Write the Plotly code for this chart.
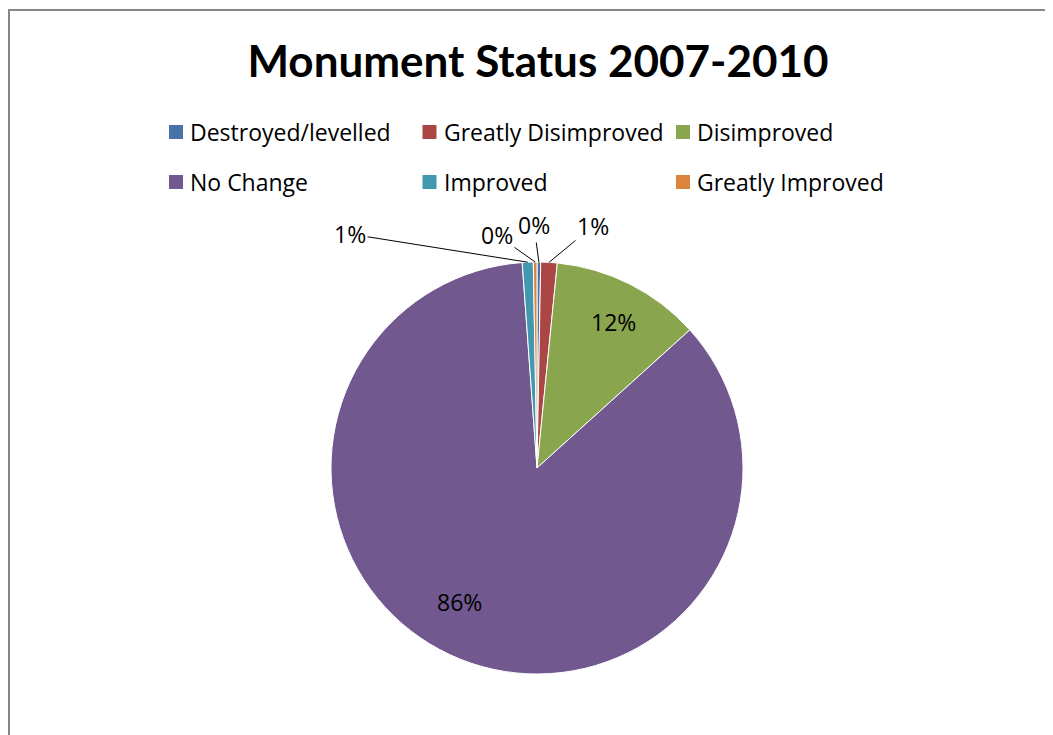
import math
import plotly.graph_objects as go

# monument condition counts, 2007-2010
status = ["Destroyed/levelled", "Greatly Disimproved", "Disimproved",
          "No Change", "Improved", "Greatly Improved"]
counts = [2, 9, 82, 598, 6, 2]
colours = ["#4573A7", "#AA4643", "#89A54E", "#71588F", "#4198AF", "#DB843D"]

# the page body has an 8px margin, so the figure is shrunk and shifted by it
OFF = 8
W, H = 1053 - OFF, 735 - OFF
FONT = "Open Sans"


def fx(x):
    return (x - OFF) / W


def fy(y):
    return 1 - (y - OFF) / H


cx, cy, r = 537, 468, 206          # pie centre / radius in page pixels

# label centres (page pixels) and whether they need a leader line
label_xy = [(534, 225), (593, 226), (613, 322), (459, 620), (350, 234), (497, 235)]
leader = [True, True, False, False, True, True]

fig = go.Figure()
fig.add_trace(go.Pie(
    labels=status,
    values=counts,
    sort=False,
    direction="clockwise",
    rotation=0,
    marker=dict(colors=colours, line=dict(color="white", width=1)),
    textinfo="none",
    hoverinfo="label+value+percent",
    showlegend=False,
    domain=dict(x=[fx(cx - r), fx(cx + r)], y=[fy(cy + r), fy(cy - r)]),
))

# data labels: rounded percentage of each slice
total = sum(counts)
cum = 0
for n, (lx, ly), line in zip(counts, label_xy, leader):
    mid = 2 * math.pi * (cum + n / 2) / total
    cum += n
    pct = f"{round(100 * n / total)}%"
    if line:
        tx, ty = cx + r * math.sin(mid), cy - r * math.cos(mid)
        fig.add_annotation(x=fx(tx), y=fy(ty), xref="paper", yref="paper",
                           ax=lx - tx, ay=ly - ty,
                           text=pct, showarrow=True, arrowhead=0, arrowwidth=1,
                           arrowcolor="black", standoff=0,
                           font=dict(family=FONT, size=23, color="black"))
    else:
        fig.add_annotation(x=fx(lx), y=fy(ly), xref="paper", yref="paper",
                           text=pct, showarrow=False,
                           font=dict(family=FONT, size=23, color="black"))

# legend, 3 columns x 2 rows
for i, (name, col) in enumerate(zip(status, colours)):
    lx = 169 + 253.5 * (i % 3)
    ly = 132 + 50 * (i // 3)
    fig.add_shape(type="rect", xref="paper", yref="paper",
                  x0=fx(lx), x1=fx(lx + 14), y0=fy(ly + 7), y1=fy(ly - 7),
                  fillcolor=col, line=dict(width=0))
    fig.add_annotation(x=fx(lx + 19), y=fy(ly), xref="paper", yref="paper",
                       text=name, showarrow=False, xanchor="left", yanchor="middle",
                       font=dict(family=FONT, size=23, color="black"))

fig.update_layout(
    width=W, height=H,
    margin=dict(l=0, r=0, t=0, b=0),
    paper_bgcolor="white",
    title=dict(text="<b>Monument Status 2007-2010</b>", x=fx(538), xanchor="center",
               y=fy(62), yanchor="middle",
               font=dict(family="Lato", size=44, color="black")),
)

# chart area border (only top and left edges are in view)
fig.add_shape(type="rect", xref="paper", yref="paper",
              x0=fx(OFF + 1), x1=1.01, y0=-0.05, y1=fy(10),
              line=dict(color="#868686", width=2))

fig.write_html("out.html")
